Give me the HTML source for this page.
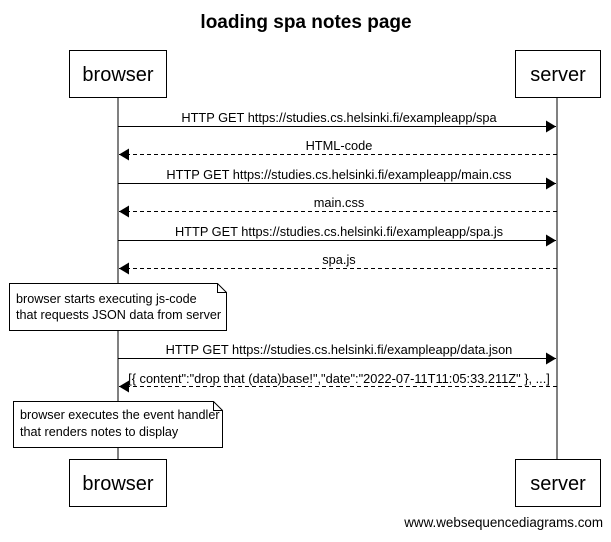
<!DOCTYPE html>
<html><head><meta charset="utf-8"><style>
body{margin:0;background:#fff;}
svg text{font-family:"Liberation Sans",sans-serif;fill:#000;}
</style></head><body>
<svg width="611" height="537" viewBox="0 0 611 537" xmlns="http://www.w3.org/2000/svg">
<defs>
<marker id="a" markerWidth="10" markerHeight="12" refX="10" refY="6" orient="auto" markerUnits="userSpaceOnUse"><path d="M0,0 L10,6 L0,12z" fill="#000"/></marker>
</defs>
<text x="306" y="28" font-size="19" font-weight="bold" text-anchor="middle">loading spa notes page</text>
<g stroke="#000" fill="#fff" stroke-width="1">
<line x1="118" y1="97" x2="118" y2="459"/>
<line x1="557" y1="97" x2="557" y2="459"/>
<rect x="69.5" y="50.5" width="97" height="47"/>
<rect x="515.5" y="50.5" width="85" height="47"/>
<rect x="69.5" y="459.5" width="97" height="47"/>
<rect x="515.5" y="459.5" width="85" height="47"/>
</g>
<g font-size="20" text-anchor="middle">
<text x="118" y="81">browser</text><text x="558" y="81">server</text>
<text x="118" y="490">browser</text><text x="558" y="490">server</text>
</g>
<g stroke="#000" stroke-width="1" fill="none">
<line x1="118" y1="126.5" x2="556" y2="126.5" marker-end="url(#a)"/>
<line x1="557" y1="154.5" x2="119" y2="154.5" stroke-dasharray="4,3" marker-end="url(#a)"/>
<line x1="118" y1="183.5" x2="556" y2="183.5" marker-end="url(#a)"/>
<line x1="557" y1="211.5" x2="119" y2="211.5" stroke-dasharray="4,3" marker-end="url(#a)"/>
<line x1="118" y1="240.5" x2="556" y2="240.5" marker-end="url(#a)"/>
<line x1="557" y1="268.5" x2="119" y2="268.5" stroke-dasharray="4,3" marker-end="url(#a)"/>
<line x1="118" y1="358.5" x2="556" y2="358.5" marker-end="url(#a)"/>
<line x1="557" y1="386.5" x2="119" y2="386.5" stroke-dasharray="4,3" marker-end="url(#a)"/>
</g>
<g font-size="12.8" text-anchor="middle">
<text x="339" y="122">HTTP GET https://studies.cs.helsinki.fi/exampleapp/spa</text>
<text x="339" y="150">HTML-code</text>
<text x="339" y="179">HTTP GET https://studies.cs.helsinki.fi/exampleapp/main.css</text>
<text x="339" y="207">main.css</text>
<text x="339" y="236">HTTP GET https://studies.cs.helsinki.fi/exampleapp/spa.js</text>
<text x="339" y="264">spa.js</text>
<text x="339" y="354">HTTP GET https://studies.cs.helsinki.fi/exampleapp/data.json</text>
<text x="339" y="383">[{ content":"drop that (data)base!","date":"2022-07-11T11:05:33.211Z" }, ...]</text>
</g>
<g stroke="#000" fill="#fff">
<path d="M9.5,283.5 H217.5 L226.5,292.5 V330.5 H9.5 Z"/>
<path d="M217.5,283.5 V292.5 H226.5" fill="none"/>
<path d="M13.5,401.5 H213.5 L222.5,410.5 V447.5 H13.5 Z"/>
<path d="M213.5,401.5 V410.5 H222.5" fill="none"/>
</g>
<g font-size="12.6">
<text x="16" y="303">browser starts executing js-code</text>
<text x="16" y="319">that requests JSON data from server</text>
<text x="20" y="419">browser executes the event handler</text>
<text x="20" y="436">that renders notes to display</text>
</g>
<text x="603" y="527" font-size="13.4" text-anchor="end">www.websequencediagrams.com</text>
</svg>
</body></html>
